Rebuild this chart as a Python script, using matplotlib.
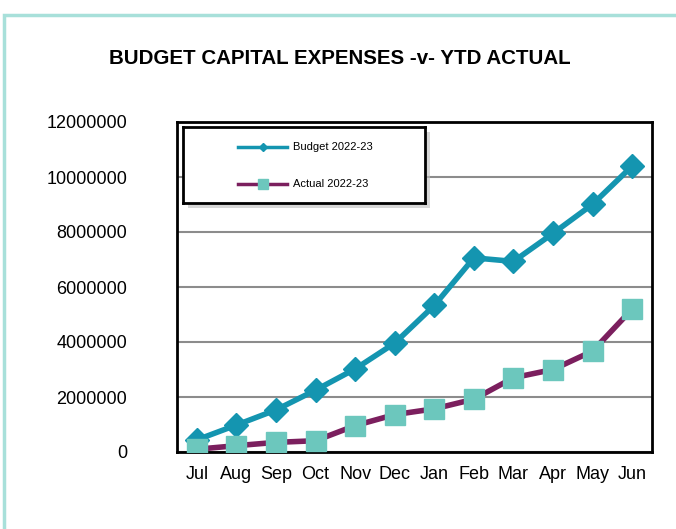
#!/usr/bin/env python
# budget capital expenses vs YTD actual, line chart
import matplotlib
matplotlib.use('Agg')
import matplotlib.pyplot as plt
from matplotlib.patches import Rectangle

plt.rcParams['font.family'] = ['Liberation Sans', 'DejaVu Sans']

months = ['Jul', 'Aug', 'Sep', 'Oct', 'Nov', 'Dec', 'Jan', 'Feb', 'Mar', 'Apr', 'May', 'Jun']
budget = [440000, 980000, 1530000, 2250000, 3020000, 3960000, 5330000, 7060000, 6930000, 7950000, 9010000, 10400000]
actual = [100000, 230000, 350000, 410000, 960000, 1360000, 1570000, 1920000, 2700000, 3000000, 3670000, 5200000]
yticks = [0, 2000000, 4000000, 6000000, 8000000, 10000000, 12000000]

fig = plt.figure(figsize=(6.76, 5.29), dpi=100)
W, H = 676, 529

# outer light teal frame
fig.patches.append(Rectangle((4 / W, -0.1), 1.2, 1 - 15 / H + 0.1, transform=fig.transFigure,
                             fill=False, edgecolor='#a8e0da', linewidth=2.5))

ax = fig.add_axes([177 / W, 1 - 452 / H, 475 / W, (452 - 122) / H])
x = list(range(len(months)))

ax.plot(x, budget, color='#1495b0', linewidth=4, marker='D', markersize=12,
        markerfacecolor='#1495b0', markeredgecolor='#1495b0', zorder=3)
ax.plot(x, actual, color='#7b1f5e', linewidth=4, marker='s', markersize=14,
        markerfacecolor='#6cc7bd', markeredgecolor='#6cc7bd', zorder=4)

ax.set_xlim(-0.5, len(months) - 0.5)
ax.set_ylim(0, 12000000)
ax.set_yticks(yticks)
ax.set_yticklabels([str(v) for v in yticks], fontsize=13)
ax.set_xticks(x)
ax.set_xticklabels(months, fontsize=13)
ax.tick_params(axis='both', length=0)
ax.tick_params(axis='y', pad=36)
ax.tick_params(axis='x', pad=10)
ax.yaxis.grid(True, color='#8c8c8c', linewidth=1.5)
ax.set_axisbelow(True)
for s in ax.spines.values():
    s.set_linewidth(2)
    s.set_color('black')

# legend box with shadow
lx0, ly0, lw, lh = 183, 127, 242, 76
fig.patches.append(Rectangle(((lx0 + 5) / W, 1 - (ly0 + lh + 5) / H), lw / W, lh / H,
                             transform=fig.transFigure, facecolor='#bdbdbd', edgecolor='none',
                             alpha=0.6, zorder=5))
leg_ax = fig.add_axes([lx0 / W, 1 - (ly0 + lh) / H, lw / W, lh / H], zorder=6)
leg_ax.set_xlim(0, lw)
leg_ax.set_ylim(lh, 0)
leg_ax.set_xticks([])
leg_ax.set_yticks([])
for s in leg_ax.spines.values():
    s.set_linewidth(2)
leg_ax.plot([55, 104], [20, 20], color='#1495b0', linewidth=2.5)
leg_ax.plot([80], [20], marker='D', markersize=4, color='#1495b0', linestyle='none')
leg_ax.plot([55, 104], [57, 57], color='#7b1f5e', linewidth=2.5)
leg_ax.plot([80], [57], marker='s', markersize=7, color='#6cc7bd', linestyle='none')
leg_ax.text(110, 20, 'Budget 2022-23', fontsize=8, va='center')
leg_ax.text(110, 57, 'Actual 2022-23', fontsize=8, va='center')

fig.text(340 / W, 1 - 58 / H, 'BUDGET CAPITAL EXPENSES -v- YTD ACTUAL', fontsize=14.8,
         fontweight='bold', ha='center', va='center')

fig.savefig('out.png', dpi=100)
